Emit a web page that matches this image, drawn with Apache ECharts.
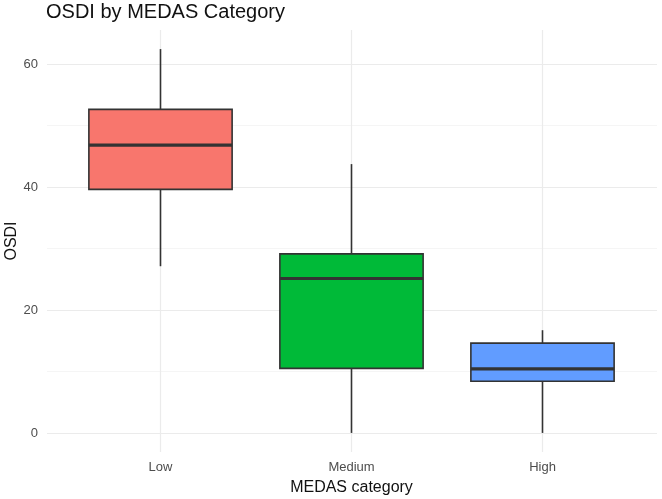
<!DOCTYPE html>
<html>
<head>
<meta charset="utf-8">
<script src="https://cdn.jsdelivr.net/npm/echarts@6/dist/echarts.min.js"></script>
<style>
  html, body { margin: 0; padding: 0; background: #fff; }
  #chart { width: 662px; height: 499px; }
</style>
</head>
<body>
<div id="chart"></div>
<script>
const categories = ['Low', 'Medium', 'High']
const whiskerLow = [27.1, 0, 0]
const q1 = [39.6, 10.5, 8.4]
const median = [46.8, 25.1, 10.4]
const q3 = [52.6, 29.1, 14.6]
const whiskerHigh = [62.4, 43.7, 16.7]
const fills = ['#F8766D', '#00BA38', '#619CFF']

const font = 'Liberation Sans, Arial, sans-serif'
const chart = echarts.init(document.getElementById('chart'))

const boxData = categories.map((c, i) => [i, whiskerLow[i], q1[i], median[i], q3[i], whiskerHigh[i]])

function renderBox(params, api) {
  const i = api.value(0)
  const bw = api.size([1, 0])[0] * 0.75
  const lo = api.coord([i, api.value(1)])
  const b1 = api.coord([i, api.value(2)])
  const md = api.coord([i, api.value(3)])
  const b3 = api.coord([i, api.value(4)])
  const hi = api.coord([i, api.value(5)])
  const stroke = '#333333'
  return {
    type: 'group',
    children: [
      { type: 'line', shape: { x1: lo[0], y1: lo[1], x2: b1[0], y2: b1[1] }, style: { stroke, lineWidth: 1.6 } },
      { type: 'line', shape: { x1: b3[0], y1: b3[1], x2: hi[0], y2: hi[1] }, style: { stroke, lineWidth: 1.6 } },
      {
        type: 'rect',
        shape: { x: b3[0] - bw / 2, y: b3[1], width: bw, height: b1[1] - b3[1] },
        style: { fill: fills[i], stroke, lineWidth: 1.6 }
      },
      { type: 'line', shape: { x1: md[0] - bw / 2, y1: md[1], x2: md[0] + bw / 2, y2: md[1] }, style: { stroke, lineWidth: 3.2 } }
    ]
  }
}

const option = {
  animation: false,
  textStyle: { fontFamily: font },
  title: {
    text: 'OSDI by MEDAS Category',
    left: 41,
    top: -3,
    textStyle: { fontSize: 20, fontWeight: 'normal', color: '#111', fontFamily: font }
  },
  grid: [
    // horizontal grid lines + y labels
    { left: 47, right: 5, top: 64, bottom: 66, outerBoundsMode: 'none', containLabel: false },
    // boxes + vertical grid lines
    { left: 65, right: 24, top: 30, bottom: 47, outerBoundsMode: 'none', containLabel: false }
  ],
  xAxis: [
    { gridIndex: 0, type: 'value', show: false },
    {
      gridIndex: 1,
      type: 'category',
      data: categories,
      axisLine: { show: false },
      axisTick: { show: false },
      axisLabel: { color: '#4d4d4d', fontSize: 13, margin: 9, fontFamily: font },
      splitLine: { show: true, alignWithLabel: true, lineStyle: { color: '#ebebeb', width: 1.2 } },
      name: 'MEDAS category',
      nameLocation: 'middle',
      nameGap: 28,
      nameTextStyle: { fontSize: 16, color: '#111', fontFamily: font }
    }
  ],
  yAxis: [
    {
      gridIndex: 0,
      type: 'value',
      min: 0,
      max: 60,
      interval: 20,
      axisLine: { show: false },
      axisTick: { show: false },
      axisLabel: { color: '#4d4d4d', fontSize: 13, margin: 9, fontFamily: font },
      splitLine: { show: true, lineStyle: { color: '#ebebeb', width: 1.2 } },
      minorTick: { show: false, splitNumber: 2 },
      minorSplitLine: { show: true, lineStyle: { color: '#f3f3f3', width: 0.8 } }
    },
    {
      gridIndex: 1,
      type: 'value',
      min: -3.1,
      max: 65.5,
      axisLine: { show: false },
      axisTick: { show: false },
      axisLabel: { show: false },
      splitLine: { show: false },
      name: 'OSDI',
      nameLocation: 'middle',
      nameRotate: 90,
      nameGap: 45,
      nameTextStyle: { fontSize: 16, color: '#111', fontFamily: font }
    }
  ],
  series: [
    {
      type: 'custom',
      xAxisIndex: 1,
      yAxisIndex: 1,
      data: boxData,
      encode: { x: 0, y: [1, 2, 3, 4, 5] },
      renderItem: renderBox
    }
  ]
}

chart.setOption(option)
</script>
</body>
</html>
